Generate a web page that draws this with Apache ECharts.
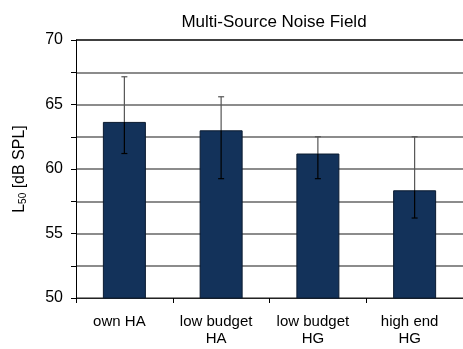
<!DOCTYPE html>
<html>
<head>
<meta charset="utf-8">
<script src="https://cdn.jsdelivr.net/npm/echarts@6/dist/echarts.min.js"></script>
<style>
  html, body { margin: 0; padding: 0; background: #fff; }
  #chart { width: 463px; height: 349px; }
</style>
</head>
<body>
<div id="chart"></div>
<script>
// Median level L50 per device, with error range
const categories = ['own HA', 'low budget\nHA', 'low budget\nHG', 'high end\nHG'];
const medianLevel = [63.65, 63.0, 61.2, 58.35];
const errLow = [61.2, 59.25, 59.25, 56.2];
const errHigh = [67.15, 65.6, 62.5, 62.5];
const yTicks = [50, 55, 60, 65, 70];

const FONT = '"Liberation Sans", Arial, sans-serif';
const chart = echarts.init(document.getElementById('chart'), null, { renderer: 'canvas' });

// grid lines every 2.5 dB; the top one (70) drawn black as the frame edge
const gridColors = [];
for (let v = 50; v <= 70; v += 2.5) gridColors.push(v === 70 ? '#000' : '#666');

chart.setOption({
  animation: false,
  title: {
    text: 'Multi-Source Noise Field',
    left: 269, top: 9, textAlign: 'center',
    textStyle: { fontFamily: FONT, fontSize: 17, fontWeight: 'normal', color: '#000' }
  },
  grid: { left: 76, top: 40, width: 388, bottom: 51, containLabel: false },
  xAxis: {
    type: 'category',
    data: categories,
    axisLine: { lineStyle: { color: '#222', width: 1.2 } },
    axisTick: { show: true, length: 5, lineStyle: { color: '#000' } },
    axisLabel: {
      fontFamily: FONT, fontSize: 15, color: '#000', lineHeight: 17, margin: 15,
      padding: [0, 10, 0, 0]
    }
  },
  yAxis: {
    type: 'value',
    min: 50, max: 70, interval: 2.5,
    name: 'L{sub|50} [dB SPL]',
    nameLocation: 'middle',
    nameRotate: 90,
    nameGap: 48,
    nameTextStyle: {
      fontFamily: FONT, fontSize: 16, color: '#000',
      rich: { sub: { fontFamily: FONT, fontSize: 10, color: '#000', verticalAlign: 'bottom', padding: [7, 0, 0, 0] } }
    },
    axisLine: { show: true, lineStyle: { color: '#000', width: 1 } },
    axisTick: { show: true, length: 5, inside: false, lineStyle: { color: '#000' } },
    axisLabel: {
      fontFamily: FONT, fontSize: 16, color: '#000', margin: 13,
      formatter: v => (yTicks.indexOf(v) >= 0 ? String(v) : '')
    },
    splitLine: { show: true, lineStyle: { color: gridColors, width: 1.5 } }
  },
  series: [
    {
      type: 'bar',
      data: medianLevel,
      barWidth: 43,
      itemStyle: { color: '#13325a', borderColor: '#0b1b30', borderWidth: 1 },
      z: 2
    },
    {
      type: 'custom',
      z: 5,
      data: categories.map((c, i) => [i, errLow[i], errHigh[i], medianLevel[i]]),
      renderItem: function (params, api) {
        const x = api.coord([api.value(0), 0])[0];
        const lo = api.coord([api.value(0), api.value(1)])[1];
        const hi = api.coord([api.value(0), api.value(2)])[1];
        const top = api.coord([api.value(0), api.value(3)])[1];
        const cap = 3;
        const outer = { stroke: '#555', lineWidth: 1.2 };
        const inner = { stroke: '#000', lineWidth: 1.2 };
        const segs = [];
        // whisker above the bar top
        segs.push({ type: 'line', shape: { x1: x, y1: hi, x2: x, y2: top }, style: outer });
        segs.push({ type: 'line', shape: { x1: x - cap, y1: hi, x2: x + cap, y2: hi }, style: outer });
        // whisker inside the bar
        segs.push({ type: 'line', shape: { x1: x, y1: Math.max(top, hi), x2: x, y2: lo }, style: inner });
        segs.push({ type: 'line', shape: { x1: x - cap, y1: lo, x2: x + cap, y2: lo }, style: inner });
        return { type: 'group', children: segs };
      }
    }
  ]
});
</script>
</body>
</html>
